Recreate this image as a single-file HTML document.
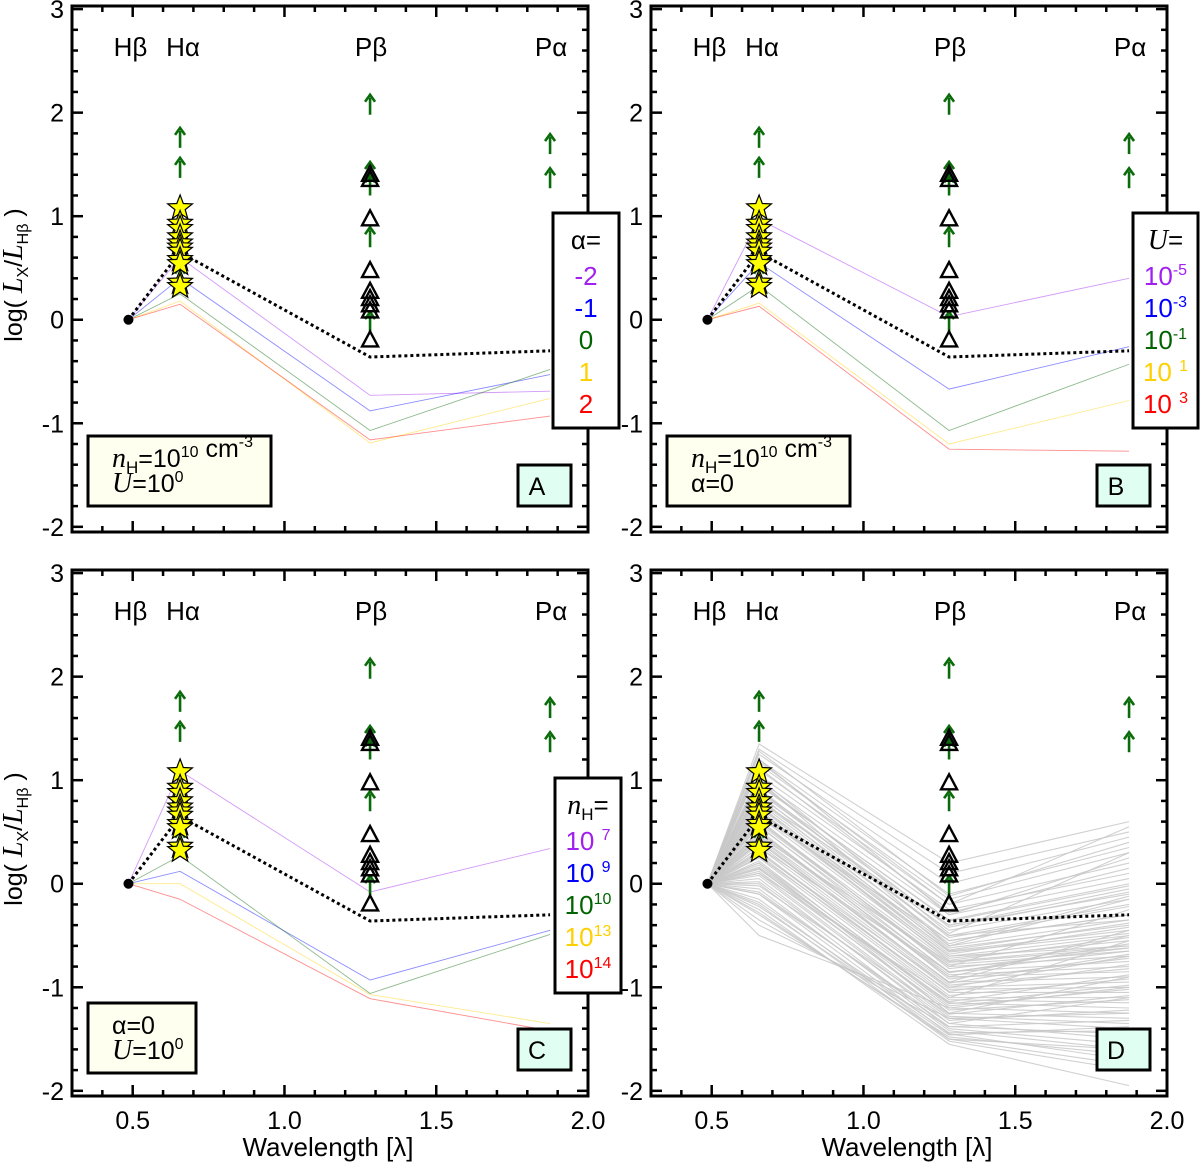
<!DOCTYPE html>
<html><head><meta charset="utf-8"><style>
html,body{margin:0;padding:0;background:#fff;}
svg{display:block;font-family:"Liberation Sans",Arial,sans-serif;}
</style></head><body>
<svg id="fig" width="1200" height="1165" viewBox="0 0 1200 1165" xmlns="http://www.w3.org/2000/svg"></svg>
<script>
// ---- data ----
const lineNames = ['Hβ','Hα','Pβ','Pα'];
const lineWaves = [0.486, 0.656, 1.282, 1.875];
const xTicks = [0.5, 1.0, 1.5, 2.0];
const xTickLabels = ['0.5','1.0','1.5','2.0'];
const yTicks = [-2,-1,0,1,2,3];
const yTickLabels = ['-2','-1','0','1','2','3'];
const dottedModel = [0, 0.65, -0.36, -0.3];
const starVals = [1.08,0.93,0.88,0.8,0.74,0.7,0.66,0.58,0.54,0.36,0.32];
const triVals = [1.4,1.35,0.97,0.47,0.27,0.2,0.14,0.08,-0.2];
const arrowWave = [0.656,0.656,0.656,1.282,1.282,1.282,1.282,1.282,1.875,1.875];
const arrowVals = [1.66,1.37,0.32,1.98,1.33,1.2,0.7,-0.12,1.6,1.27];
const colors = ['#a020f0','#0000ff','#006400','#ffd000','#ff0000'];
const seriesA = [[0,0.6,-0.73,-0.69],[0,0.4,-0.88,-0.53],[0,0.25,-1.07,-0.48],[0,0.18,-1.19,-0.76],[0,0.15,-1.16,-0.93]];
const seriesB = [[0,0.97,0.03,0.4],[0,0.55,-0.67,-0.26],[0,0.33,-1.07,-0.43],[0,0.16,-1.2,-0.78],[0,0.13,-1.25,-1.27]];
const seriesC = [[0,1.09,-0.08,0.34],[0,0.12,-0.93,-0.45],[0,0.27,-1.06,-0.49],[0,0.0,-1.07,-1.35],[0,-0.15,-1.11,-1.42]];
const grayHa = [1.35,1.3,1.25,1.2,1.15,1.1,1.05,1.0,0.95,0.9,0.88,0.85,0.8,0.78,0.75,0.7,0.68,0.65,0.6,0.58,0.55,0.5,0.48,0.45,0.4,0.38,0.35,0.3,0.28,0.25,0.2,0.18,0.15,0.1,0.08,0.05,0.0,-0.05,-0.1,-0.15,-0.2,-0.25,-0.3,-0.35,-0.4,-0.5,0.9,0.7,0.5,0.3,0.1,1.2,1.0,0.6,0.4,0.2,-0.1,0.8,0.65,0.35,
  1.28,1.12,0.98,0.92,0.83,0.72,0.62,0.52,0.42,0.32,0.22,0.12,0.02,-0.08,-0.18,-0.28,1.18,1.02,0.86,0.74,0.56,0.44,0.26,0.14,-0.02,0.96,0.76,0.46,0.16,-0.22];
const grayPb = [0.2,0.1,0.0,-0.1,-0.15,-0.2,-0.25,-0.3,-0.35,-0.4,-0.45,-0.5,-0.55,-0.6,-0.62,-0.65,-0.7,-0.72,-0.75,-0.78,-0.8,-0.85,-0.88,-0.9,-0.95,-1.0,-1.02,-1.05,-1.1,-1.12,-1.15,-1.2,-1.25,-1.28,-1.3,-1.35,-1.4,-1.42,-1.45,-1.5,-1.52,-1.55,-1.48,-1.38,-1.3,-1.2,-0.5,-0.7,-0.9,-1.0,-1.1,-0.3,-0.6,-0.8,-0.95,-1.25,-1.35,-0.4,-0.55,-0.85,
  -0.12,-0.28,-0.42,-0.52,-0.64,-0.74,-0.82,-0.92,-0.98,-1.08,-1.18,-1.22,-1.32,-1.38,-1.44,-1.5,-0.2,-0.48,-0.58,-0.68,-0.86,-0.96,-1.04,-1.14,-1.26,-0.36,-0.66,-0.76,-1.16,-1.46];
const grayPa = [0.6,0.5,0.45,0.35,0.3,0.2,0.1,0.05,0.0,-0.1,-0.15,-0.2,-0.3,-0.35,-0.4,-0.45,-0.5,-0.55,-0.6,-0.65,-0.7,-0.75,-0.8,-0.85,-0.9,-0.95,-1.0,-1.05,-1.1,-1.15,-1.2,-1.25,-1.3,-1.35,-1.4,-1.5,-1.55,-1.6,-1.7,-1.75,-1.8,-1.95,-1.65,-1.45,-1.25,-1.0,-0.35,-0.6,-0.5,-0.7,-0.55,0.25,-0.15,-0.25,-0.45,-0.9,-1.1,-0.05,-0.3,-0.65,
  0.4,0.15,-0.08,-0.22,-0.38,-0.52,-0.62,-0.72,-0.82,-0.92,-1.02,-1.12,-1.22,-1.32,-1.42,-1.6,0.55,0.3,-0.12,-0.42,-0.58,-0.68,-0.78,-0.88,-1.08,-0.02,-0.48,-0.62,-0.98,-1.38];

// ---- layout ----
const NS='http://www.w3.org/2000/svg';
const svg=document.getElementById('fig');
const X0=72, X1=588, Y0=6, Y1=532, XMIN=0.3, XMAX=2.0, YMIN=-2.05, YMAX=3.03;
function mk(tag, attrs, parent){const e=document.createElementNS(NS,tag);for(const k in attrs)e.setAttribute(k,attrs[k]);(parent||svg).appendChild(e);return e;}
function sx(ox,v){return ox+X0+(v-XMIN)/(XMAX-XMIN)*(X1-X0);}
function sy(oy,v){return oy+Y1-(v-YMIN)/(YMAX-YMIN)*(Y1-Y0);}

function starPath(cx,cy,R){let r=R*0.42,p='';for(let i=0;i<10;i++){const a=-Math.PI/2+i*Math.PI/5,rr=i%2?r:R;p+=(i?'L':'M')+(cx+rr*Math.cos(a)).toFixed(1)+','+(cy+rr*Math.sin(a)).toFixed(1);}return p+'Z';}

function panel(ox,oy,key,opts){
  const g=mk('g',{});
  
  
  if(opts.gray){
    const gg=mk('g',{},g);
    
    
    for(let i=0;i<grayHa.length;i++){
      const vals=[0,grayHa[i],grayPb[i],grayPa[i]];
      const pl=mk('polyline',{points:vals.map((v,j)=>sx(ox,lineWaves[j])+','+sy(oy,v)).join(' '),fill:'none',stroke:'#c8c8c8','stroke-width':1.1,'stroke-opacity':0.85},gg);
      
      
    }
  }
  if(opts.series){
    opts.series.forEach((vals,k)=>{
      const pl=mk('polyline',{points:vals.map((v,j)=>sx(ox,lineWaves[j])+','+sy(oy,v)).join(' '),fill:'none',stroke:colors[k],'stroke-width':0.9,'stroke-opacity':0.45},g);
      
      
    });
  }
  const dl=mk('polyline',{points:dottedModel.map((v,j)=>sx(ox,lineWaves[j])+','+sy(oy,v)).join(' '),fill:'none',stroke:'#000','stroke-width':3,'stroke-dasharray':'3,3'},g);
  
  
  const dot=mk('circle',{cx:sx(ox,lineWaves[0]),cy:sy(oy,0),r:5,fill:'#000'},g);
  
  
  arrowVals.forEach((v,i)=>{
    const x=sx(ox,arrowWave[i]),y=sy(oy,v);
    const a=mk('g',{},g);
    
    
    mk('line',{x1:x,y1:y,x2:x,y2:y-17,stroke:'#0a6b0a','stroke-width':2.6},a);
    mk('path',{d:`M${x-5},${y-13}L${x},${y-20}L${x+5},${y-13}`,fill:'none',stroke:'#0a6b0a','stroke-width':2.6},a);
  });
  triVals.forEach(v=>{
    const x=sx(ox,lineWaves[2]),y=sy(oy,v);
    const t=mk('path',{d:`M${x},${y-9}L${x+8},${y+6}L${x-8},${y+6}Z`,fill:'none',stroke:'#000','stroke-width':2.4},g);
    
    
  });
  starVals.forEach(v=>{
    const s=mk('path',{d:starPath(sx(ox,lineWaves[1]),sy(oy,v),13),fill:'#ffff00',stroke:'#000','stroke-width':1.2},g);
    
    
  });
  lineNames.forEach((n,j)=>{
    const offs=[2,3,1,1];
    const t=mk('text',{x:sx(ox,lineWaves[j])+offs[j],y:oy+56,'font-size':26,'text-anchor':'middle',fill:'#000'},g);
    t.textContent=n;
    
    
  });
  const fr=mk('rect',{x:ox+X0,y:oy+Y0,width:X1-X0,height:Y1-Y0,fill:'none',stroke:'#000','stroke-width':3},g);
  
  
  for(let i=3;i<=20;i++){const v=i/10;const x=sx(ox,v);const L=(i%5===0)?11:6;
    mk('line',{x1:x,y1:oy+Y1,x2:x,y2:oy+Y1-L,stroke:'#000','stroke-width':2.5},g);
    mk('line',{x1:x,y1:oy+Y0,x2:x,y2:oy+Y0+L,stroke:'#000','stroke-width':2.5},g);}
  for(let i=-10;i<=15;i++){const v=i/5;const y=sy(oy,v);const L=(i%5===0)?11:6;
    mk('line',{x1:ox+X0,y1:y,x2:ox+X0+L,y2:y,stroke:'#000','stroke-width':2.5},g);
    mk('line',{x1:ox+X1,y1:y,x2:ox+X1-L,y2:y,stroke:'#000','stroke-width':2.5},g);}
  yTicks.forEach((v,i)=>{const t=mk('text',{x:ox+X0-8,y:sy(oy,v)+9,'font-size':25,'text-anchor':'end'},g);t.textContent=yTickLabels[i];
    
    });
  if(opts.xlabels){
    xTicks.forEach((v,i)=>{const t=mk('text',{x:sx(ox,v),y:oy+Y1+33,'font-size':25,'text-anchor':'middle'},g);t.textContent=xTickLabels[i];
      
      });
    const xt=mk('text',{x:ox+328,y:oy+Y1+60,'font-size':26,'text-anchor':'middle'},g);xt.textContent='Wavelength [λ]';
    
    
  }
  if(opts.ylabel){
    const yt=mk('text',{transform:`translate(${ox+22},${oy+275}) rotate(-90)`,'font-size':25,'text-anchor':'middle'},g);
    yt.innerHTML='log( <tspan font-family="Liberation Serif" font-style="italic" font-size="28">L</tspan><tspan font-size="16" dy="6">X</tspan><tspan dy="-6">/</tspan><tspan font-family="Liberation Serif" font-style="italic" font-size="28">L</tspan><tspan font-size="16" dy="6">Hβ</tspan><tspan dy="-6"> )</tspan>';
    
    
  }
  const lb=mk('g',{},g);
  
  
  mk('rect',{x:ox+518,y:oy+465,width:53,height:41,fill:'#e0fff2',stroke:'#000','stroke-width':3},lb);
  const lt=mk('text',{x:ox+537,y:oy+495,'font-size':25,'text-anchor':'middle'},lb);lt.textContent=key;
  if(opts.info){
    const ib=mk('g',{},g);
    
    
    mk('rect',{x:ox+88,y:oy+opts.info.y,width:opts.info.w,height:opts.info.h,fill:'#fffff0',stroke:'#000','stroke-width':3},ib);
    opts.info.lines.forEach((ln,i)=>{const t=mk('text',{x:ox+112,y:oy+opts.info.y+31+i*25,'font-size':25},ib);t.innerHTML=ln;});
  }
  if(opts.legend){
    const L=opts.legend;
    const lg=mk('g',{},g);
    
    
    mk('rect',{x:ox+L.x,y:oy+L.y,width:L.w,height:215,fill:'#fff',stroke:'#000','stroke-width':3},lg);
    const tt=mk('text',{x:ox+L.x+L.w/2,y:oy+L.y+36,'font-size':26,'text-anchor':'middle'},lg);tt.innerHTML=L.title;
    L.items.forEach((it,i)=>{const t=mk('text',{x:ox+L.x+L.w/2,y:oy+L.y+72+i*32,'font-size':26,'text-anchor':'middle',fill:colors[i]},lg);t.innerHTML=it;
      
      });
  }
}
const IT='font-family="Liberation Serif" font-style="italic"';
const nH=`<tspan ${IT} font-size="28">n</tspan><tspan font-size="17" dy="6">H</tspan><tspan dy="-6">=</tspan>`;
const sup=(b,e)=>`${b}<tspan font-size="16" dy="-10">${e}</tspan><tspan dy="10"></tspan>`;
const Uu=`<tspan ${IT} font-size="28">U</tspan>`;
panel(0,0,'A',{series:seriesA,ylabel:true,
  info:{y:436,w:183,h:70,lines:[nH+sup('10','10')+' '+sup('cm','-3'),Uu+'='+sup('10','0')]},
  legend:{x:553,y:213,w:66,title:'α=',items:['-2','-1','0','1','2']}});
panel(579,0,'B',{series:seriesB,
  info:{y:436,w:183,h:70,lines:[nH+sup('10','10')+' '+sup('cm','-3'),'α=0']},
  legend:{x:554,y:213,w:65,title:Uu+'=',items:[sup('10','-5'),sup('10','-3'),sup('10','-1'),sup('10 ','1'),sup('10 ','3')]}});
panel(0,564,'C',{series:seriesC,ylabel:true,xlabels:true,
  info:{y:439,w:108,h:70,lines:['α=0',Uu+'='+sup('10','0')]},
  legend:{x:555,y:214,w:66,title:nH,items:[sup('10 ','7'),sup('10 ','9'),sup('10','10'),sup('10','13'),sup('10','14')]}});
panel(579,564,'D',{gray:true,xlabels:true});
</script>
</body></html>
